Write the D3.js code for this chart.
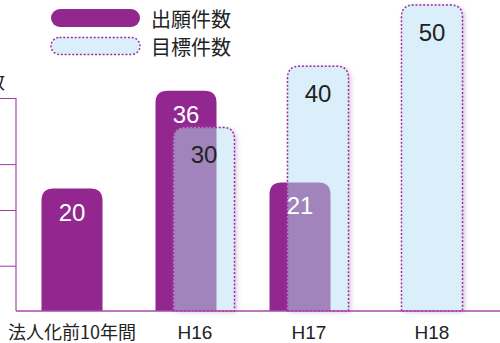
<!DOCTYPE html>
<html>
<head>
<meta charset="utf-8">
<script src="https://cdn.jsdelivr.net/npm/d3@7"></script>
<style>
  body { margin: 0; background: #fff; }
  svg { display: block; }
</style>
</head>
<body>
<div id="chart"></div>
<script>
var categories = ["法人化前10年間", "H16", "H17", "H18"];
var applied = [20, 36, 21, null];     // 出願件数
var targets = [null, 30, 40, 50];     // 目標件数
var seriesNames = ["出願件数", "目標件数"];
var tickValues = [7.4, 16.5, 24, 34.8];
var axisTitle = "件数";

var W = 500, H = 343;
var purple = "#92278f", lavender = "#a084bb", blue = "#dbeffa", border = "#9c2f9d";

var svg = d3.select("#chart").append("svg")
  .attr("width", W)
  .attr("height", H);

var defs = svg.append("defs");
var f = defs.append("filter").attr("id", "glow")
  .attr("x", "-30%").attr("y", "-10%").attr("width", "160%").attr("height", "130%");
f.append("feDropShadow")
  .attr("dx", 2).attr("dy", 1).attr("stdDeviation", 2.5)
  .attr("flood-color", "#b489c4").attr("flood-opacity", 0.55);

var x = d3.scaleBand().domain(categories).range([24, 480]);
var y = d3.scaleLinear().domain([0, 50]).range([311, 5]);
var barW = 61, shift = 9, r = 12;

function center(c){ return x(c) + x.bandwidth() / 2; }

// bar with rounded top corners
function barPath(x0, v){
  var top = y(v), base = y(0);
  return "M" + x0 + "," + base +
    "V" + (top + r) +
    "Q" + x0 + "," + top + " " + (x0 + r) + "," + top +
    "H" + (x0 + barW - r) +
    "Q" + (x0 + barW) + "," + top + " " + (x0 + barW) + "," + (top + r) +
    "V" + base + "Z";
}

var rows = categories.map(function(c, i){
  return {cat: c, i: i, a: applied[i], t: targets[i],
    ax: center(c) - shift - barW / 2, tx: center(c) + shift - barW / 2};
});

// axis
var axisG = svg.append("g").attr("transform", "translate(16,0)");
axisG.call(d3.axisLeft(y).tickValues(tickValues).tickSize(16).tickFormat(""));
axisG.select(".domain").remove();
axisG.selectAll(".tick line").attr("stroke", "#9b3a9b").attr("stroke-width", 1);
axisG.append("line")
  .attr("x1", 0).attr("x2", 0)
  .attr("y1", y(0)).attr("y2", y(d3.max(tickValues)))
  .attr("stroke", "#a448a4").attr("stroke-width", 1.2);

svg.append("text")
  .attr("x", 5).attr("y", 89)
  .attr("text-anchor", "end")
  .attr("font-family", "Noto Sans CJK JP")
  .attr("font-size", 19)
  .attr("fill", "#222")
  .text(axisTitle);

// applied bars
var aRows = rows.filter(function(d){ return d.a != null; });
svg.selectAll(".abar").data(aRows).enter().append("path")
  .attr("class", "abar")
  .attr("d", function(d){ return barPath(d.ax, d.a); })
  .attr("fill", purple);

aRows.forEach(function(d){
  defs.append("clipPath").attr("id", "clipA" + d.i)
    .append("path").attr("d", barPath(d.ax, d.a));
});

// target bars
var tRows = rows.filter(function(d){ return d.t != null; });
svg.selectAll(".tbar").data(tRows).enter().append("path")
  .attr("class", "tbar")
  .attr("d", function(d){ return barPath(d.tx, d.t); })
  .attr("fill", blue)
  .attr("filter", "url(#glow)");

// overlap of the two series
svg.selectAll(".overlap").data(tRows.filter(function(d){ return d.a != null; }))
  .enter().append("path")
  .attr("class", "overlap")
  .attr("d", function(d){ return barPath(d.tx, d.t); })
  .attr("clip-path", function(d){ return "url(#clipA" + d.i + ")"; })
  .attr("fill", lavender);

svg.selectAll(".tborder").data(tRows).enter().append("path")
  .attr("class", "tborder")
  .attr("d", function(d){ return barPath(d.tx, d.t); })
  .attr("fill", "none")
  .attr("stroke", border)
  .attr("stroke-width", 1.5)
  .attr("stroke-dasharray", "2,1.8");

// baseline
svg.append("line")
  .attr("x1", 16).attr("x2", W)
  .attr("y1", y(0)).attr("y2", y(0))
  .attr("stroke", "#a84aa8").attr("stroke-width", 1.6);

// value labels
svg.selectAll(".alabel").data(aRows).enter().append("text")
  .attr("class", "alabel")
  .attr("x", function(d){ return d.ax + barW / 2; })
  .attr("y", function(d){ return y(d.a) + 32; })
  .attr("text-anchor", "middle")
  .attr("font-family", "Liberation Sans, Arial, sans-serif")
  .attr("font-size", 24)
  .attr("fill", "#fff")
  .text(function(d){ return d.a; });

svg.selectAll(".tlabel").data(tRows).enter().append("text")
  .attr("class", "tlabel")
  .attr("x", function(d){ return d.tx + barW / 2; })
  .attr("y", function(d){ return y(d.t) + 36; })
  .attr("text-anchor", "middle")
  .attr("font-family", "Liberation Sans, Arial, sans-serif")
  .attr("font-size", 24)
  .attr("fill", "#222")
  .text(function(d){ return d.t; });

// category labels, centred under the bars drawn for each category
svg.selectAll(".xlabel").data(rows).enter().append("text")
  .attr("class", "xlabel")
  .attr("x", function(d){
    var cs = [];
    if (d.a != null) cs.push(d.ax + barW / 2);
    if (d.t != null) cs.push(d.tx + barW / 2);
    return d3.mean(cs);
  })
  .attr("y", 339)
  .attr("text-anchor", "middle")
  .attr("font-family", function(d){ return d.i == 0 ? "Noto Sans CJK JP" : "Liberation Sans, Arial, sans-serif"; })
  .attr("font-size", function(d){ return d.i == 0 ? 18 : 19; })
  .attr("fill", "#222")
  .text(function(d){ return d.cat; });

// legend
var leg = svg.append("g");
leg.append("rect")
  .attr("x", 51).attr("y", 9).attr("width", 89).attr("height", 18)
  .attr("rx", 9).attr("fill", purple);
leg.append("rect")
  .attr("x", 51).attr("y", 37.5).attr("width", 89).attr("height", 17)
  .attr("rx", 8.5).attr("fill", blue)
  .attr("stroke", border).attr("stroke-width", 1.5).attr("stroke-dasharray", "2,1.8");
leg.selectAll("text").data(seriesNames).enter().append("text")
  .attr("x", 151)
  .attr("y", function(d, i){ return 18 + i * 28.5; })
  .attr("dominant-baseline", "central")
  .attr("font-family", "Noto Sans CJK JP")
  .attr("font-size", 20)
  .attr("fill", "#222")
  .text(function(d){ return d; });
</script>
</body>
</html>
